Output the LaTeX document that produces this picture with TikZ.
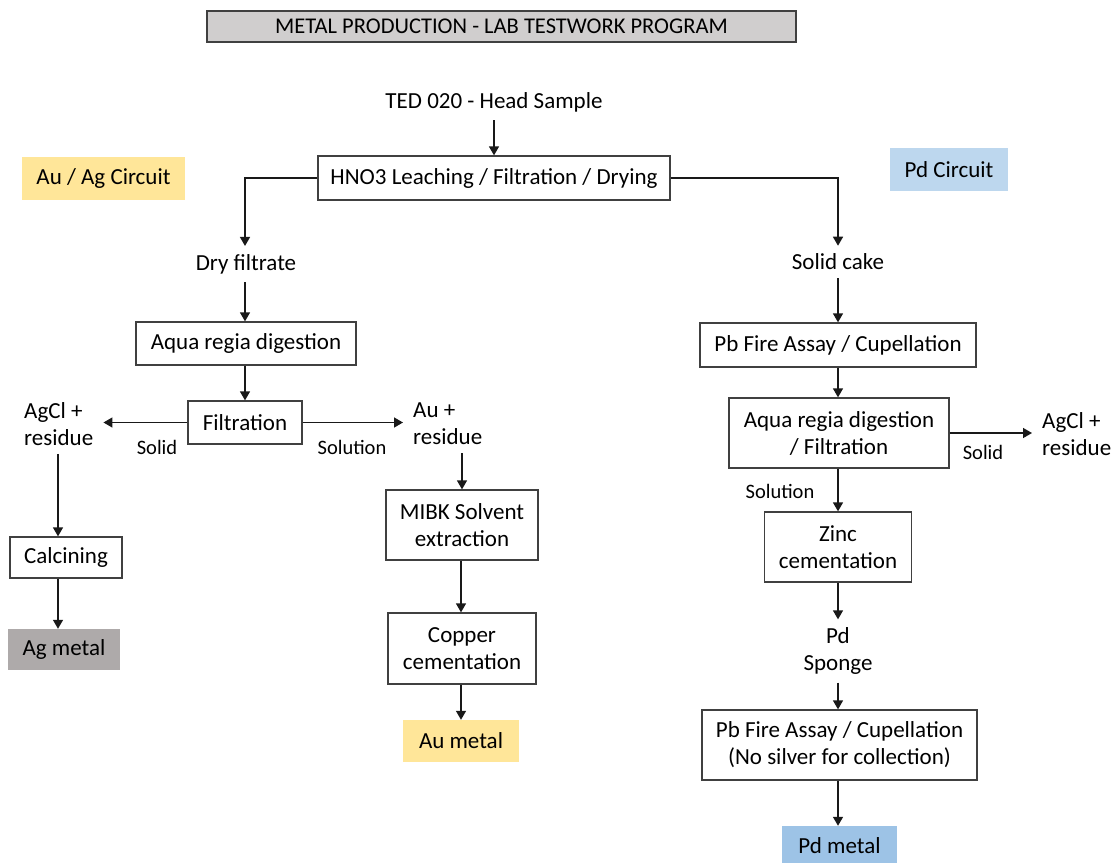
\documentclass[tikz,border=0pt]{standalone}
\usepackage{fontspec}
\setmainfont{Carlito}
\usetikzlibrary{arrows.meta}
\definecolor{titlegray}{RGB}{208,206,206}
\definecolor{bordergray}{RGB}{64,64,64}
\definecolor{goldfill}{RGB}{255,230,153}
\definecolor{bluelight}{RGB}{189,215,238}
\definecolor{bluemid}{RGB}{157,195,230}
\definecolor{greyfill}{RGB}{174,170,170}
\tikzset{
  procbox/.style={draw=bordergray, line width=1.3pt, fill=white, align=center, inner sep=0pt,
    font=\fontsize{23}{27}\selectfont},
  tagbox/.style={draw=none, align=center, inner sep=0pt, font=\fontsize{23}{27}\selectfont},
  lbl/.style={align=center, inner xsep=10pt, inner ysep=8pt, font=\fontsize{23}{27}\selectfont},
  lbll/.style={align=left, inner xsep=10pt, inner ysep=8pt, font=\fontsize{23}{27}\selectfont},
  small/.style={inner sep=0pt, font=\fontsize{20.5}{24}\selectfont},
  arr/.style={-{Triangle[width=10pt,length=9pt]}, line width=1.4pt, draw=black!90}
}
\begin{document}
\begin{tikzpicture}[x=1pt,y=-1pt]
\useasboundingbox (0,0) rectangle (1118,862);
\clip (0,0) rectangle (1118,862);
% title
\node[procbox, fill=titlegray, minimum width=589pt, minimum height=31pt, font=\fontsize{22.5}{24}\selectfont] (title) at (501.5,26.5) {METAL PRODUCTION - LAB TESTWORK PROGRAM};
% circuits
\node[tagbox, fill=goldfill, minimum width=163pt, minimum height=43pt] (auag) at (103.5,178.5) {Au / Ag Circuit};
\node[tagbox, fill=bluelight, minimum width=118pt, minimum height=43pt] (pdc) at (949,169.5) {Pd Circuit};
% top
\node[lbl] (ted) at (494,102) {TED 020 - Head Sample};
\node[procbox, minimum width=352pt, minimum height=44pt] (hno3) at (494,178) {HNO3 Leaching / Filtration / Drying};
\node[lbl] (dry) at (246,264) {Dry filtrate};
\node[lbl] (cake) at (838,262) {Solid cake};
% left branch
\node[procbox, minimum width=220pt, minimum height=43pt] (aqua1) at (246,343.5) {Aqua regia digestion};
\node[procbox, minimum width=114pt, minimum height=43pt] (filt) at (245,422.5) {Filtration};
\node[lbll, anchor=west] (agcl1) at (14,424) {AgCl +\\residue};
\node[small] (solid1) at (157,447) {Solid};
\node[small] (solu1) at (352,447) {Solution};
\node[lbll, anchor=west] (aures) at (403,424) {Au +\\residue};
\node[procbox, minimum width=112pt, minimum height=41pt] (calc) at (66,557.5) {Calcining};
\node[tagbox, fill=greyfill, minimum width=112pt, minimum height=41pt] (agm) at (64,649.5) {Ag metal};
\node[procbox, minimum width=152pt, minimum height=70pt] (mibk) at (462,525) {MIBK Solvent\\extraction};
\node[procbox, minimum width=148pt, minimum height=71pt] (copper) at (462,648.5) {Copper\\cementation};
\node[tagbox, fill=goldfill, minimum width=116pt, minimum height=42pt] (aum) at (461,741) {Au metal};
% right branch
\node[procbox, minimum width=276pt, minimum height=44pt] (pb1) at (838,345) {Pb Fire Assay / Cupellation};
\node[procbox, minimum width=220pt, minimum height=70pt] (aqua2) at (839,433) {Aqua regia digestion\\/ Filtration};
\node[small] (solid2) at (983,452) {Solid};
\node[lbll, anchor=west] (agcl2) at (1032,434) {AgCl +\\residue};
\node[small] (solu2) at (780,491) {Solution};
\node[procbox, minimum width=147pt, minimum height=70pt] (zinc) at (838,547) {Zinc\\cementation};
\node[lbl] (sponge) at (838,651) {Pd\\Sponge};
\node[procbox, minimum width=275pt, minimum height=70pt] (pb2) at (839.5,745) {Pb Fire Assay / Cupellation\\(No silver for collection)};
\node[tagbox, fill=bluemid, minimum width=115pt, minimum height=40pt] (pdm) at (839.5,846) {Pd metal};
% connectors top
\draw[arr] (ted.south) -- (ted.south |- hno3.north);
\draw[arr] (hno3.west) -| ([xshift=-1pt]dry.north);
\draw[arr] (hno3.east) -| (cake.north);
% left
\draw[arr] ([xshift=-1pt]dry.south) -- ([xshift=-1pt]dry.south |- aqua1.north);
\draw[arr] (filt.north |- aqua1.south) -- (filt.north);
\draw[arr] (filt.west) -- (filt.west -| agcl1.east);
\draw[arr] (filt.east) -- (filt.east -| aures.west);
\draw[arr] ([xshift=-8pt]calc.north |- agcl1.south) -- ([xshift=-8pt]calc.north);
\draw[arr] ([xshift=-8pt]calc.south) -- ([xshift=-8pt]calc.south |- agm.north);
\draw[arr] (mibk.north |- aures.south) -- (mibk.north);
\draw[arr] ([xshift=-1pt]mibk.south) -- ([xshift=-1pt]mibk.south |- copper.north);
\draw[arr] ([xshift=-1pt]copper.south) -- ([xshift=-1pt]copper.south |- aum.north);
% right
\draw[arr] (cake.south) -- (cake.south |- pb1.north);
\draw[arr] (pb1.south) -- (pb1.south |- aqua2.north);
\draw[arr] (aqua2.east) -- (aqua2.east -| agcl2.west);
\draw[arr] ([xshift=-1pt]aqua2.south) -- ([xshift=-1pt]aqua2.south |- zinc.north);
\draw[arr] (zinc.south) -- (zinc.south |- sponge.north);
\draw[arr] (sponge.south) -- (sponge.south |- pb2.north);
\draw[arr] ([xshift=-1.5pt]pb2.south) -- ([xshift=-1.5pt]pb2.south |- pdm.north);
\end{tikzpicture}
\end{document}
